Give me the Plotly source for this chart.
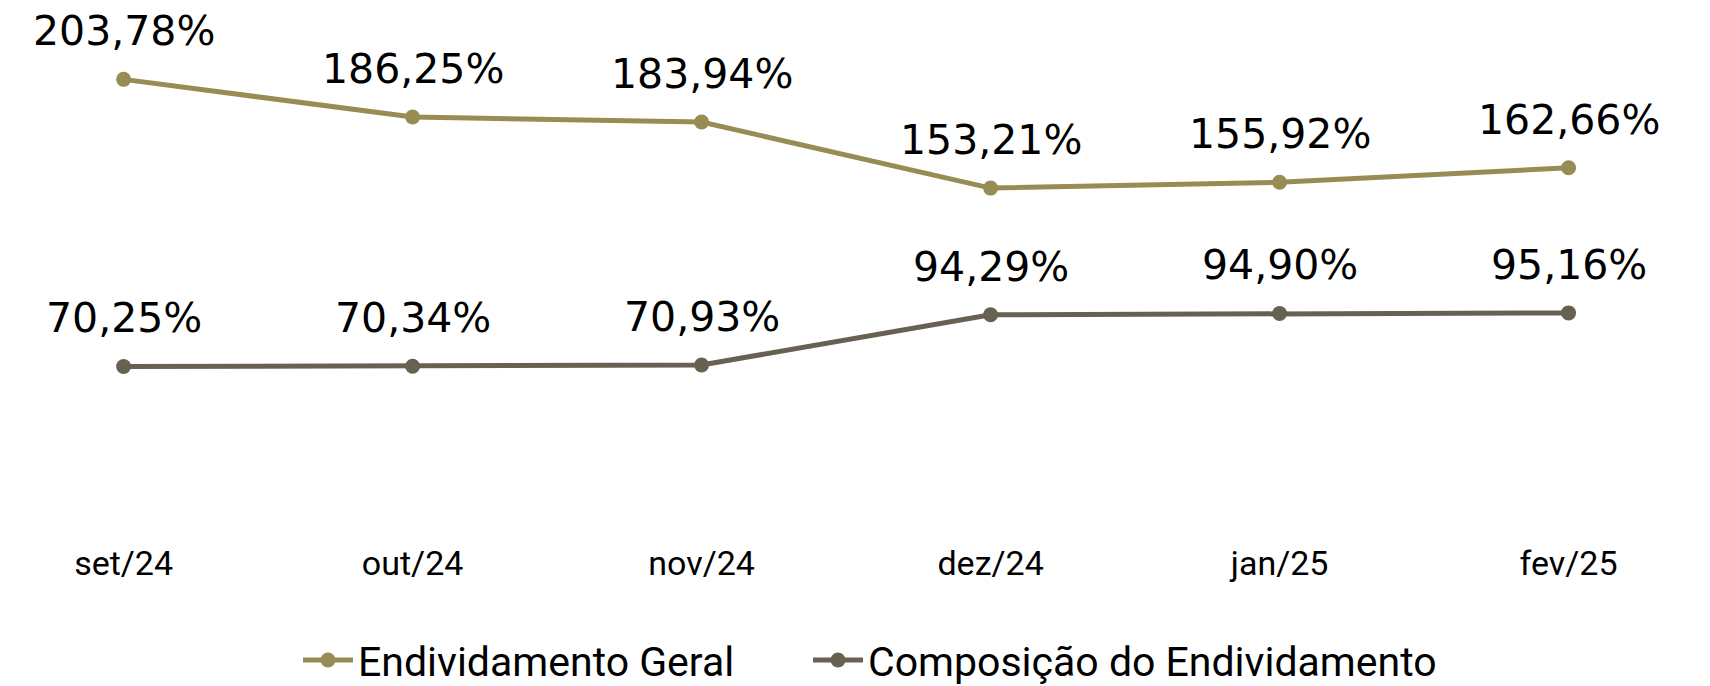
import plotly.graph_objects as go

# Data
meses = ['set/24', 'out/24', 'nov/24', 'dez/24', 'jan/25', 'fev/25']
endividamento_geral = [203.78, 186.25, 183.94, 153.21, 155.92, 162.66]
composicao_endividamento = [70.25, 70.34, 70.93, 94.29, 94.90, 95.16]

cor_geral = '#978D54'
cor_composicao = '#676152'


def fmt(v):
    return f"{v:.2f}".replace('.', ',') + '%'


fig = go.Figure()

fig.add_trace(go.Scatter(
    x=meses,
    y=endividamento_geral,
    mode='lines+markers',
    name='Endividamento Geral',
    line=dict(color=cor_geral, width=5),
    marker=dict(color=cor_geral, size=15),
    legend='legend',
))

fig.add_trace(go.Scatter(
    x=meses,
    y=composicao_endividamento,
    mode='lines+markers',
    name='Composição do Endividamento',
    line=dict(color=cor_composicao, width=5),
    marker=dict(color=cor_composicao, size=15),
    legend='legend2',
))

# Data labels above each point
for serie in (endividamento_geral, composicao_endividamento):
    for m, v in zip(meses, serie):
        fig.add_annotation(
            x=m, y=v, text=fmt(v),
            showarrow=False, yanchor='middle', yshift=48,
            font=dict(family='DejaVu Sans', size=41, color='#000000'),
        )

legend_style = dict(
    orientation='h',
    xanchor='left',
    yref='container', y=0.049, yanchor='middle',
    font=dict(family='Roboto', size=41, color='#000000'),
    itemwidth=50,
    bgcolor='rgba(0,0,0,0)',
)

fig.update_layout(
    width=1710,
    height=686,
    margin=dict(l=0, r=0, t=15, b=155),
    plot_bgcolor='white',
    paper_bgcolor='white',
    showlegend=True,
    legend=dict(legend_style, x=290 / 1710),
    legend2=dict(legend_style, x=800 / 1710),
)

fig.update_xaxes(
    type='category',
    range=[-0.40, 5.517],
    showgrid=False,
    showline=False,
    zeroline=False,
    ticks='',
    tickfont=dict(family='Roboto', size=34, color='#000000'),
    ticklabelstandoff=1,
)

fig.update_yaxes(
    range=[-10, 230],
    visible=False,
    showgrid=False,
)

fig.write_html("out.html")
